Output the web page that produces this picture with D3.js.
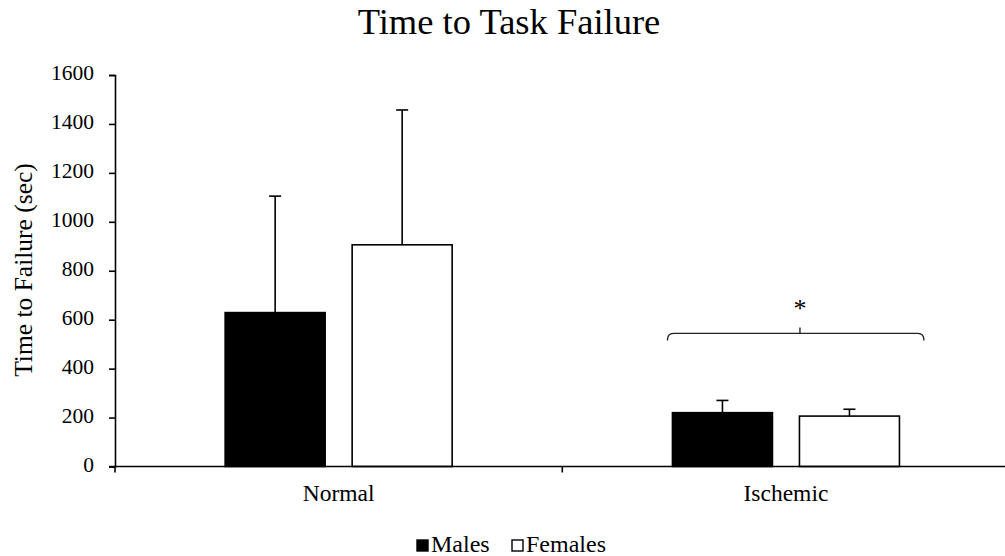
<!DOCTYPE html>
<html>
<head>
<meta charset="utf-8">
<script src="https://cdn.jsdelivr.net/npm/d3@7"></script>
<style>
  html, body { margin: 0; padding: 0; background: #fff; }
  svg { display: block; font-family: "Liberation Serif", "Times New Roman", serif; }
  text { font-family: "Liberation Serif", "Times New Roman", serif; fill: #000; }
</style>
</head>
<body>
<svg id="chart" width="1005" height="556"></svg>
<script>
// Condition groups and the two series (mean and upper SD, seconds)
const categories = ["Normal", "Ischemic"];
const seriesNames = ["Males", "Females"];
const maleMeans = [629, 220];
const maleErrors = [476, 50];
const femaleMeans = [906, 206];
const femaleErrors = [551, 28];
const yTicks = [0, 200, 400, 600, 800, 1000, 1200, 1400, 1600];
// Significance bracket over the ischemic group
const bracketCategory = "Ischemic";
const bracketValue = 544;
const bracketLabel = "*";

(function () {
const svg = d3.select("#chart");
const plotLeft = 115, plotRight = 1009.6, plotTop = 75, plotBottom = 466.5;

const rows = [];
categories.forEach((c, i) => {
  rows.push({ cat: c, series: "Males", value: maleMeans[i], err: maleErrors[i] });
  rows.push({ cat: c, series: "Females", value: femaleMeans[i], err: femaleErrors[i] });
});

const x0 = d3.scaleBand().domain(categories).range([plotLeft, plotRight]).padding(0);
const half = x0.bandwidth() / 2;
const x1 = d3.scaleBand().domain(seriesNames)
  .range([half - 113.5, half + 113.5])
  .paddingInner(27 / 127).paddingOuter(0);
const y = d3.scaleLinear().domain([0, 1600]).range([plotBottom, plotTop]);

const fills = { Males: "#000", Females: "#fff" };

// Bars
svg.append("g").selectAll("rect").data(rows).join("rect")
  .attr("x", d => x0(d.cat) + x1(d.series))
  .attr("y", d => y(d.value))
  .attr("width", x1.bandwidth())
  .attr("height", d => y(0) - y(d.value))
  .attr("fill", d => fills[d.series])
  .attr("stroke", "#000")
  .attr("stroke-width", 1.6);

// Upper error bars
const eb = svg.append("g").attr("stroke", "#000").attr("stroke-width", 1.6);
rows.forEach(d => {
  const cx = x0(d.cat) + x1(d.series) + x1.bandwidth() / 2;
  eb.append("line").attr("x1", cx).attr("x2", cx)
    .attr("y1", y(d.value)).attr("y2", y(d.value + d.err));
  eb.append("line").attr("x1", cx - 6).attr("x2", cx + 6)
    .attr("y1", y(d.value + d.err)).attr("y2", y(d.value + d.err));
});

// Y axis
const yAxis = d3.axisLeft(y).tickValues(yTicks).tickSize(6).tickPadding(15)
  .tickFormat(d3.format("d"));
const gy = svg.append("g").attr("transform", `translate(${plotLeft},0)`).call(yAxis);
gy.attr("font-family", null).attr("font-size", null);
gy.select(".domain").attr("stroke", "#000").attr("stroke-width", 1.6);
gy.selectAll(".tick line").attr("stroke", "#000").attr("stroke-width", 1.6);
gy.selectAll(".tick text").attr("font-size", 21.5).attr("fill", "#000").attr("dy", "0.22em");

// X axis line with ticks at category boundaries
const gx = svg.append("g");
gx.append("line").attr("x1", plotLeft - 6).attr("x2", plotRight)
  .attr("y1", plotBottom).attr("y2", plotBottom)
  .attr("stroke", "#000").attr("stroke-width", 1.6);
const bounds = categories.map(c => x0(c)).concat([x0(categories[categories.length - 1]) + x0.bandwidth()]);
gx.selectAll(".bt").data(bounds).join("line")
  .attr("x1", d => d).attr("x2", d => d)
  .attr("y1", plotBottom).attr("y2", plotBottom + 6)
  .attr("stroke", "#000").attr("stroke-width", 1.6);
gx.selectAll(".cl").data(categories).join("text")
  .attr("x", d => x0(d) + half)
  .attr("y", 501)
  .attr("text-anchor", "middle")
  .attr("font-size", 23.5)
  .text(d => d);

// Y axis title
svg.append("text")
  .attr("transform", `translate(32,270) rotate(-90)`)
  .attr("text-anchor", "middle")
  .attr("font-size", 25.5)
  .text("Time to Failure (sec)");

// Chart title
svg.append("text")
  .attr("x", 509).attr("y", 33.5)
  .attr("text-anchor", "middle")
  .attr("font-size", 36.5)
  .text("Time to Task Failure");

// Significance bracket
const bx0 = x0(bracketCategory) + half - 118.5;
const bx1 = x0(bracketCategory) + half + 138;
const bxc = x0(bracketCategory) + half + 14;
const by = y(bracketValue);
const bp = d3.path();
bp.moveTo(bx0, by + 7);
bp.quadraticCurveTo(bx0, by, bx0 + 6, by);
bp.lineTo(bx1 - 6, by);
bp.quadraticCurveTo(bx1, by, bx1, by + 7);
svg.append("path").attr("d", bp.toString())
  .attr("fill", "none").attr("stroke", "#222").attr("stroke-width", 1.4);
svg.append("line").attr("x1", bxc).attr("x2", bxc).attr("y1", by).attr("y2", by - 6)
  .attr("stroke", "#222").attr("stroke-width", 1.4);
svg.append("text").attr("x", bxc).attr("y", by - 16)
  .attr("text-anchor", "middle").attr("font-size", 26)
  .text(bracketLabel);

// Legend
const legend = svg.append("g").attr("transform", "translate(417,540)");
const items = [{ name: "Males", x: 0 }, { name: "Females", x: 95 }];
items.forEach(it => {
  legend.append("rect").attr("x", it.x).attr("y", 0).attr("width", 11).attr("height", 11)
    .attr("fill", fills[it.name]).attr("stroke", "#000").attr("stroke-width", 1.4);
  legend.append("text").attr("x", it.x + 14).attr("y", 12)
    .attr("font-size", 24).text(it.name);
});
})();
</script>
</body>
</html>
